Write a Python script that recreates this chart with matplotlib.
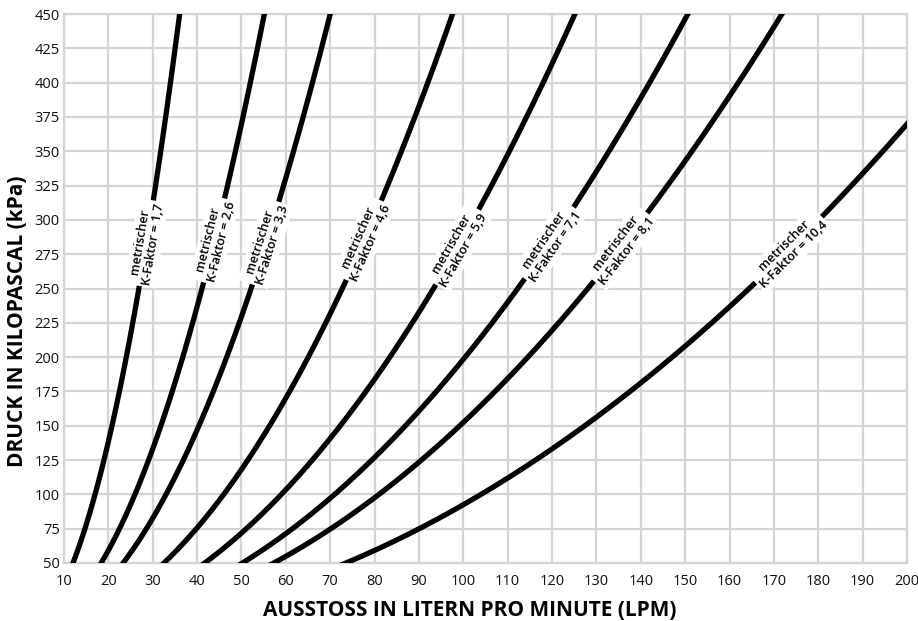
import numpy as np
import matplotlib.pyplot as plt

plt.rcParams['font.family'] = ['Open Sans', 'DejaVu Sans']

# metric K-factors of the nozzles, Q = K * sqrt(P)
k_factors = [1.7, 2.6, 3.3, 4.6, 5.9, 7.1, 8.1, 10.4]
k_labels = ['1,7', '2,6', '3,3', '4,6', '5,9', '7,1', '8,1', '10,4']
# pressure (kPa) at which each label sits on its curve
label_p = [283, 285, 283, 285, 280, 283, 280, 278]

x_ticks = list(range(10, 201, 10))
y_ticks = list(range(50, 451, 25))

GRID = '#d4d4d4'

fig = plt.figure(figsize=(9.18, 6.21), dpi=100)
ax = fig.add_axes([64 / 918, 58 / 621, 843 / 918, 549 / 621])

ax.set_xlim(10, 200)
ax.set_ylim(50, 450)
ax.set_xticks(x_ticks)
ax.set_yticks(y_ticks)
ax.grid(True, color=GRID, lw=1.6, zorder=0)
ax.set_axisbelow(True)
for s in ax.spines.values():
    s.set_color(GRID)
    s.set_linewidth(1.6)
ax.tick_params(length=0, labelsize=10.5, colors='#111111')
ax.tick_params(axis='x', pad=8)
ax.tick_params(axis='y', pad=3)

p = np.linspace(40, 460, 400)
for k in k_factors:
    ax.plot(k * np.sqrt(p), p, color='black', lw=3.8, solid_capstyle='butt', zorder=3)

fig.canvas.draw()
for k, lab, pl in zip(k_factors, k_labels, label_p):
    q = k * np.sqrt(pl)
    # on-screen slope of the curve at the label position
    x0, y0 = ax.transData.transform((q, pl))
    x1, y1 = ax.transData.transform((k * np.sqrt(pl + 1), pl + 1))
    ang = np.degrees(np.arctan2(y1 - y0, x1 - x0))
    ax.text(q, pl, 'metrischer\nK-Faktor = ' + lab, rotation=ang,
            rotation_mode='anchor', ha='center', va='center',
            fontsize=9, fontweight='semibold', linespacing=1.1,
            multialignment='center', zorder=4,
            bbox=dict(facecolor='white', edgecolor='none', pad=1.5))

fig.text(470 / 918, 5 / 621, 'AUSSTOSS IN LITERN PRO MINUTE (LPM)', fontsize=15,
         fontweight='bold', ha='center', va='baseline')
fig.text(18 / 918, 300 / 621, 'DRUCK IN KILOPASCAL (kPa)', fontsize=15,
         fontweight='bold', ha='center', va='center', rotation=90)

plt.savefig('out.png', dpi=100)
